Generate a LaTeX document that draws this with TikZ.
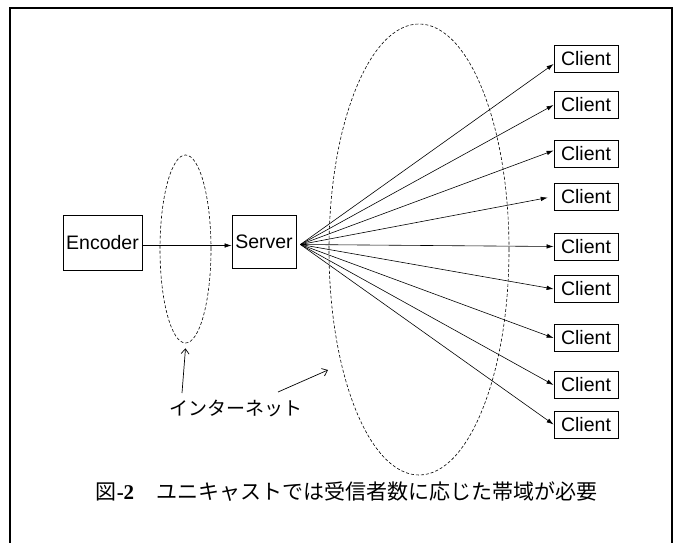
\documentclass[tikz,border=0pt]{standalone}
\usepackage{fontspec}
\setmainfont{Liberation Sans}
\newfontfamily\jpfont{Noto Sans CJK JP}
\newfontfamily\capserif{Liberation Serif}
\usetikzlibrary{arrows.meta,shapes.geometric}
\begin{document}
\begin{tikzpicture}[x=1pt,y=-1pt,
  boxnode/.style={draw, line width=0.8pt, inner sep=0pt, font=\fontsize{19.5}{21}\selectfont},
  clientbox/.style={boxnode, minimum width=64pt, minimum height=27pt},
  fanarr/.style={line width=0.6pt, -{Latex[length=7pt,width=4.5pt]}},
  openarr/.style={line width=0.7pt, -{Straight Barb[length=5pt,width=8pt]}},
  netell/.style={draw, ellipse, dashed, dash pattern=on 3pt off 2pt, line width=0.6pt, inner sep=0pt},
  jptext/.style={font=\jpfont\fontsize{19}{21}\selectfont, inner sep=0pt}
]
\useasboundingbox (0,0) rectangle (680,543);
% frame
\draw[line width=1.1pt] (10,543) -- (10,8) -- (672,8) -- (672,543);

% ellipses
\node[netell, minimum width=51pt, minimum height=188pt] (e1) at (185.5,249) {};
\node[netell, minimum width=180pt, minimum height=451pt] (e2) at (419,249.5) {};

% boxes
\node[boxnode, minimum width=79pt, minimum height=55pt] (enc) at (102.5,242.5) {Encoder};
\node[boxnode, minimum width=64pt, minimum height=53pt] (srv) at (264,241.5) {Server};

\node[clientbox] (c1) at (586,59) {Client};
\node[clientbox] (c2) at (586,105) {Client};
\node[clientbox] (c3) at (586,153.5) {Client};
\node[clientbox] (c4) at (586,196.5) {Client};
\node[clientbox] (c5) at (586,246.5) {Client};
\node[clientbox] (c6) at (586,289) {Client};
\node[clientbox] (c7) at (586,338) {Client};
\node[clientbox] (c8) at (586,385) {Client};
\node[clientbox] (c9) at (586,424.5) {Client};

% arrows
\draw[fanarr] ([yshift=-3pt]enc.east) -- ([yshift=-3pt]enc.east -| srv.west);
\coordinate (fan) at ([xshift=4pt,yshift=-3pt]srv.east);
\draw[fanarr] (fan) -- ([yshift=-5pt]c1.west);
\draw[fanarr] (fan) -- (c2.west);
\draw[fanarr] (fan) -- ([yshift=3pt]c3.west);
\draw[fanarr, shorten >=6pt] (fan) -- (c4.west);
\draw[fanarr] (fan) -- (c5.west);
\draw[fanarr] (fan) -- (c6.west);
\draw[fanarr] (fan) -- (c7.west);
\draw[fanarr] (fan) -- (c8.west);
\draw[fanarr] (fan) -- (c9.west);

% internet label
\node[jptext] (net) at (236,408) {インターネット};
\coordinate (n1) at (182,393);
\coordinate (n2) at (278,392);
\coordinate (t2) at (328,370);
\draw[openarr] (n1) -- ([yshift=-5pt]e1.south);
\draw[openarr] (n2) -- (t2);

% caption
\node[font=\jpfont\fontsize{21}{23}\selectfont, inner sep=0pt] (cap) at (346.5,492)
  {図{\capserif\bfseries -2}\hspace{22pt}ユニキャストでは受信者数に応じた帯域が必要};
\end{tikzpicture}
\end{document}
